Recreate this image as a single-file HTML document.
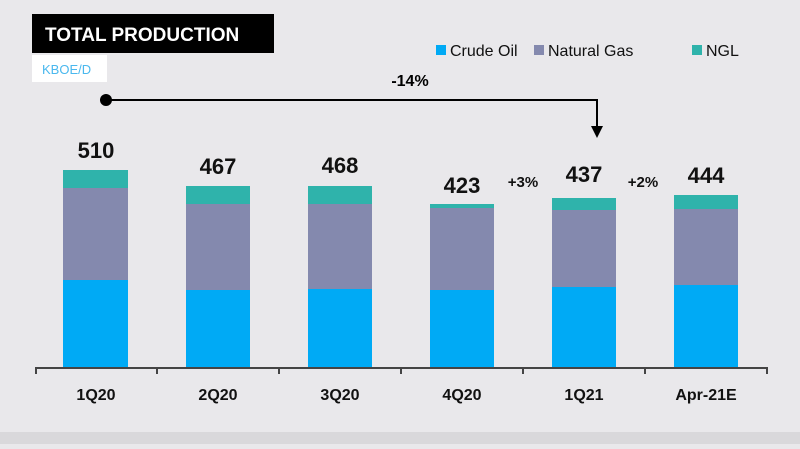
<!DOCTYPE html><html><head><style>
body{margin:0;width:800px;height:444px;background:#e9e8eb;overflow:hidden;font-family:"Liberation Sans",sans-serif}
</style></head><body>
<svg width="800" height="444" xmlns="http://www.w3.org/2000/svg" font-family="Liberation Sans, sans-serif">
<rect x="0" y="0" width="800" height="432" fill="#e9e8eb"/>
<rect x="0" y="432" width="800" height="12" fill="#d9d8db"/>
<rect x="32" y="14" width="242" height="39" fill="#000"/>
<text x="45" y="41" font-size="19" font-weight="bold" fill="#fff">TOTAL PRODUCTION</text>
<rect x="32" y="55" width="75" height="27" fill="#fff"/>
<text x="42" y="74" font-size="13" fill="#4ab8ee">KBOE/D</text>
<rect x="436" y="45" width="10" height="10" fill="#00aaf5"/><text x="450" y="56" font-size="16" fill="#111">Crude Oil</text>
<rect x="534" y="45" width="10" height="10" fill="#8489ae"/><text x="548" y="56" font-size="16" fill="#111">Natural Gas</text>
<rect x="692" y="45" width="10" height="10" fill="#2fb3ab"/><text x="706" y="56" font-size="16" fill="#111">NGL</text>
<circle cx="106" cy="100" r="6" fill="#000"/>
<polyline points="106,100 597,100 597,128" fill="none" stroke="#000" stroke-width="2"/>
<polygon points="591,126 603,126 597,138" fill="#000"/>
<text x="410" y="86" font-size="16" font-weight="bold" text-anchor="middle">-14%</text>
<g>
<rect x="63" y="280" width="65" height="88" fill="#00aaf5"/><rect x="63" y="188" width="65" height="92" fill="#8489ae"/><rect x="63" y="170" width="65" height="18" fill="#2fb3ab"/>
<rect x="186" y="290" width="64" height="78" fill="#00aaf5"/><rect x="186" y="204" width="64" height="86" fill="#8489ae"/><rect x="186" y="186" width="64" height="18" fill="#2fb3ab"/>
<rect x="308" y="289" width="64" height="79" fill="#00aaf5"/><rect x="308" y="204" width="64" height="85" fill="#8489ae"/><rect x="308" y="186" width="64" height="18" fill="#2fb3ab"/>
<rect x="430" y="290" width="64" height="78" fill="#00aaf5"/><rect x="430" y="208" width="64" height="82" fill="#8489ae"/><rect x="430" y="204" width="64" height="4" fill="#2fb3ab"/>
<rect x="552" y="287" width="64" height="81" fill="#00aaf5"/><rect x="552" y="210" width="64" height="77" fill="#8489ae"/><rect x="552" y="198" width="64" height="12" fill="#2fb3ab"/>
<rect x="674" y="285" width="64" height="83" fill="#00aaf5"/><rect x="674" y="209" width="64" height="76" fill="#8489ae"/><rect x="674" y="195" width="64" height="14" fill="#2fb3ab"/>
</g>
<g font-size="22" font-weight="bold" text-anchor="middle" fill="#111">
<text x="96" y="158">510</text><text x="218" y="174">467</text><text x="340" y="173">468</text>
<text x="462" y="193">423</text><text x="584" y="182">437</text><text x="706" y="183">444</text>
</g>
<g font-size="15" font-weight="bold" text-anchor="middle" fill="#111">
<text x="523" y="187">+3%</text><text x="643" y="187">+2%</text>
</g>
<line x1="35" y1="368" x2="768" y2="368" stroke="#444" stroke-width="2"/>
<g stroke="#444" stroke-width="2">
<line x1="36" y1="368" x2="36" y2="374"/><line x1="157" y1="368" x2="157" y2="374"/><line x1="279" y1="368" x2="279" y2="374"/><line x1="401" y1="368" x2="401" y2="374"/><line x1="523" y1="368" x2="523" y2="374"/><line x1="645" y1="368" x2="645" y2="374"/><line x1="767" y1="368" x2="767" y2="374"/>
</g>
<g font-size="16" font-weight="bold" text-anchor="middle" fill="#111">
<text x="96" y="400">1Q20</text><text x="218" y="400">2Q20</text><text x="340" y="400">3Q20</text>
<text x="462" y="400">4Q20</text><text x="584" y="400">1Q21</text><text x="706" y="400">Apr-21E</text>
</g>
</svg>
</body></html>
